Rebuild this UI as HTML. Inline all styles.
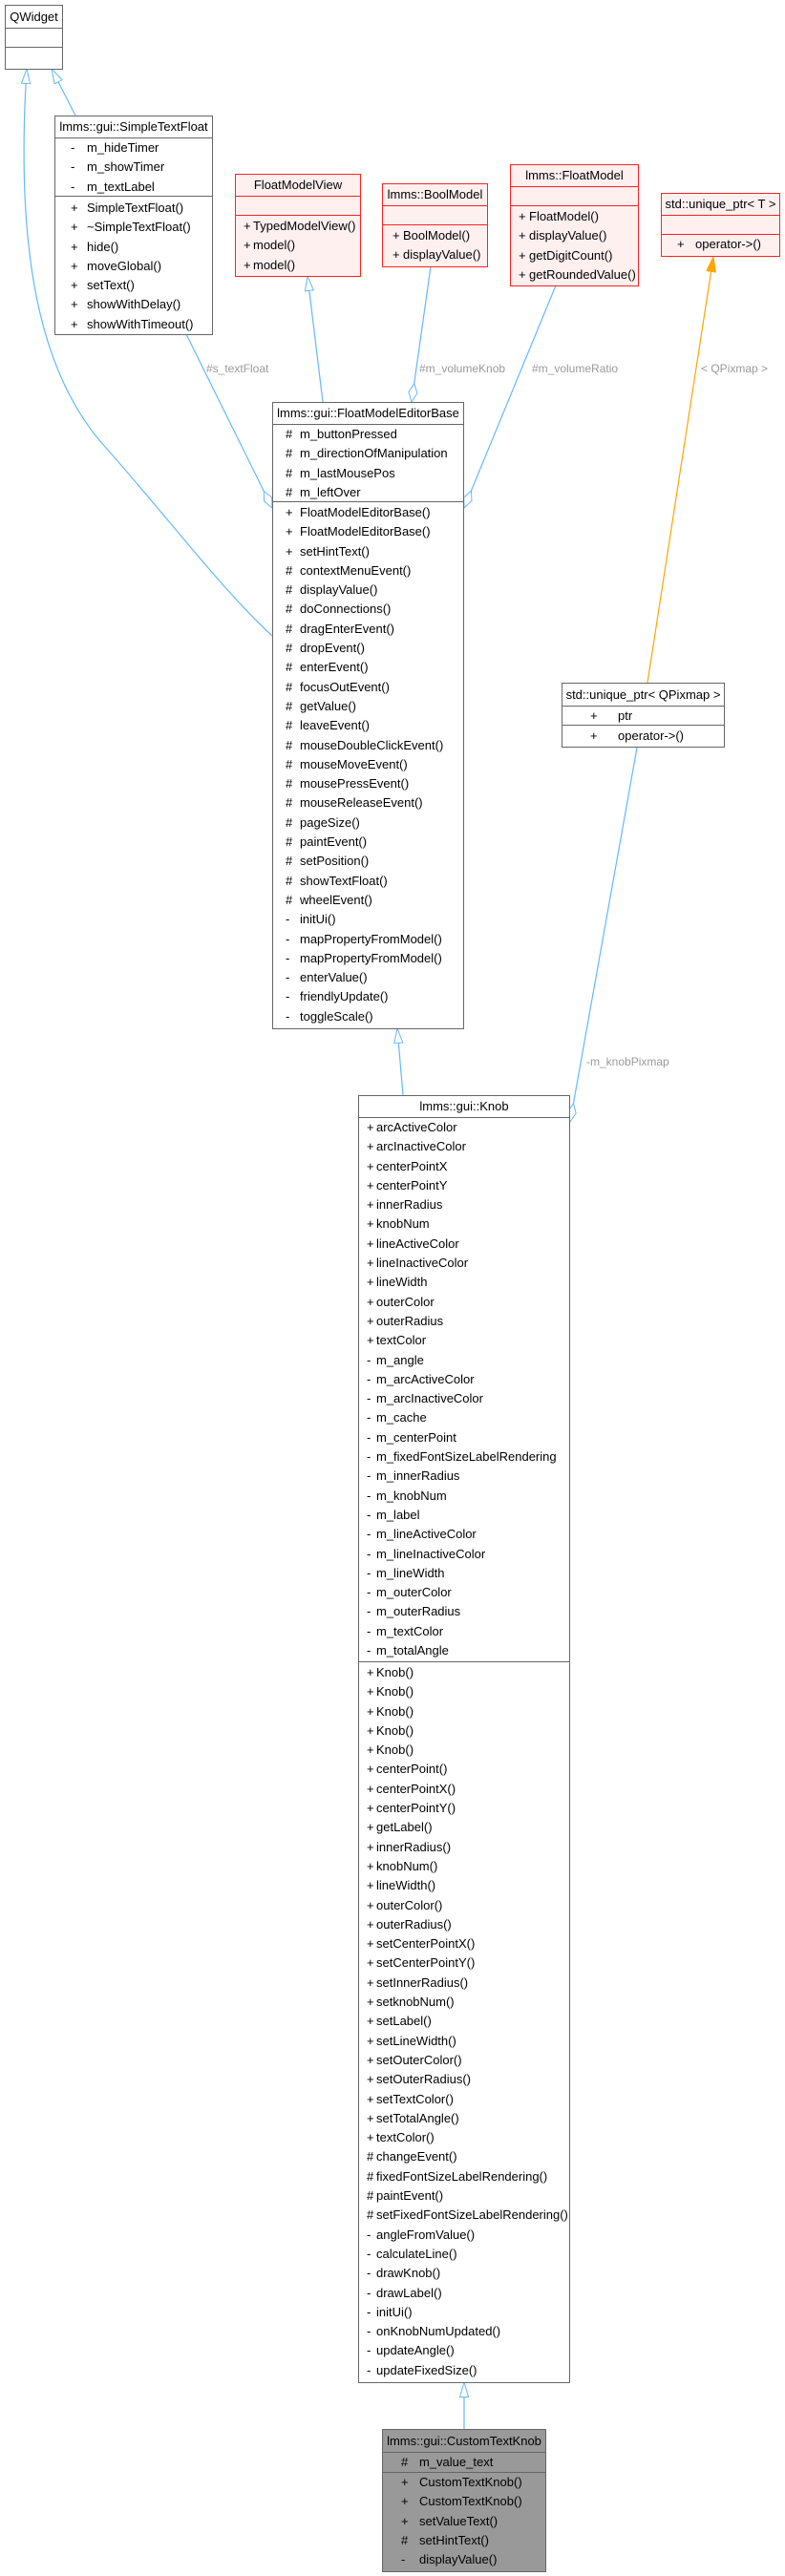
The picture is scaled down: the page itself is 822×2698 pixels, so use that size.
<!DOCTYPE html>
<html><head><meta charset="utf-8"><style>
body{margin:0;background:#fff;}
#w{position:relative;width:822px;height:2698px;overflow:hidden;font-family:"Liberation Sans",Arial,sans-serif;font-size:13px;color:#000;}
.b{position:absolute;border:1px solid #666;background:#fff;box-sizing:border-box;}
.b.red{border-color:#f22;background:#fff0f0;}
.b.grey{background:#999;}
.h{text-align:center;white-space:nowrap;border-bottom:1px solid #666;box-sizing:border-box;}
.red .h,.red .s{border-color:#f22;}
.s{border-bottom:1px solid #666;box-sizing:border-box;}
.s:last-child{border-bottom:none;}
.r{position:relative;height:20.3px;line-height:20.3px;white-space:nowrap;}
.p{position:absolute;left:var(--p);}
.n{position:absolute;left:var(--n);}
.lbl{position:absolute;color:#9a9a9a;font-size:12px;white-space:nowrap;}
svg{position:absolute;left:0;top:0;}
</style></head><body><div id="w">
<svg width="822" height="2698">
<defs>
<marker id="tri" markerUnits="userSpaceOnUse" markerWidth="18" markerHeight="12" refX="16" refY="5" orient="auto"><path d="M0.5,0.5 L16,5 L0.5,9.5 z" fill="#fff" stroke="#63b8ff" stroke-width="1"/></marker>
<marker id="dia" markerUnits="userSpaceOnUse" markerWidth="22" markerHeight="12" refX="20" refY="5" orient="auto"><path d="M0.5,5 L10,0.5 L20,5 L10,9.5 z" fill="#fff" stroke="#63b8ff" stroke-width="1"/></marker>
<marker id="ora" markerUnits="userSpaceOnUse" markerWidth="18" markerHeight="12" refX="16" refY="5" orient="auto"><path d="M0,0 L16,5 L0,10 z" fill="#ffa500" stroke="#ffa500"/></marker>
</defs>
<g fill="none" stroke="#63b8ff" stroke-width="1.2">
<path d="M79,121 L54,72" marker-end="url(#tri)"/>
<path d="M285,666 C230,615 170,535 110,468 C40,390 16,260 28,72" marker-end="url(#tri)"/>
<path d="M338,421 L322,289" marker-end="url(#tri)"/>
<path d="M486,2544 L486,2495" marker-end="url(#tri)"/>
<path d="M422,1147 L416,1077" marker-end="url(#tri)"/>
<path d="M195,350 L285,532" marker-end="url(#dia)"/>
<path d="M451,279 L431,421" marker-end="url(#dia)"/>
<path d="M582,299 L486,532" marker-end="url(#dia)"/>
<path d="M667,783 L597,1175" marker-end="url(#dia)"/>
<path d="M678,715 L747,269" stroke="#ffa500" marker-end="url(#ora)"/>
</g>
</svg>

<div class="lbl" style="left:216px;top:379px">#s_textFloat</div>
<div class="lbl" style="left:439px;top:379px">#m_volumeKnob</div>
<div class="lbl" style="left:557px;top:379px">#m_volumeRatio</div>
<div class="lbl" style="left:734px;top:379px">&lt; QPixmap &gt;</div>
<div class="lbl" style="left:614px;top:1105px">-m_knobPixmap</div>

<div class="b" style="left:5px;top:5px;width:61px;">
<div class="h" style="height:24px;line-height:23px">QWidget</div>
<div class="s" style="height:20px"></div>
<div class="s" style="height:22px"></div>
</div>

<div class="b" style="left:57px;top:121px;width:166px;--p:16px;--n:33px">
<div class="h" style="height:23px;line-height:22px">lmms::gui::SimpleTextFloat</div>
<div class="s" style="height:61px">
<div class="r"><span class="p">-</span><span class="n">m_hideTimer</span></div>
<div class="r"><span class="p">-</span><span class="n">m_showTimer</span></div>
<div class="r"><span class="p">-</span><span class="n">m_textLabel</span></div>
</div>
<div class="s" style="height:144px;padding-top:2px">
<div class="r"><span class="p">+</span><span class="n">SimpleTextFloat()</span></div>
<div class="r"><span class="p">+</span><span class="n">~SimpleTextFloat()</span></div>
<div class="r"><span class="p">+</span><span class="n">hide()</span></div>
<div class="r"><span class="p">+</span><span class="n">moveGlobal()</span></div>
<div class="r"><span class="p">+</span><span class="n">setText()</span></div>
<div class="r"><span class="p">+</span><span class="n">showWithDelay()</span></div>
<div class="r"><span class="p">+</span><span class="n">showWithTimeout()</span></div>
</div>
</div>

<div class="b red" style="left:246px;top:182px;width:132px;--p:8px;--n:18px">
<div class="h" style="height:23px;line-height:22px">FloatModelView</div>
<div class="s" style="height:20px"></div>
<div class="s" style="height:63px;padding-top:1px">
<div class="r"><span class="p">+</span><span class="n">TypedModelView()</span></div>
<div class="r"><span class="p">+</span><span class="n">model()</span></div>
<div class="r"><span class="p">+</span><span class="n">model()</span></div>
</div>
</div>

<div class="b red" style="left:400px;top:192px;width:111px;--p:10px;--n:21px">
<div class="h" style="height:23px;line-height:22px">lmms::BoolModel</div>
<div class="s" style="height:20px"></div>
<div class="s" style="height:43px;padding-top:1px">
<div class="r"><span class="p">+</span><span class="n">BoolModel()</span></div>
<div class="r"><span class="p">+</span><span class="n">displayValue()</span></div>
</div>
</div>

<div class="b red" style="left:534px;top:172px;width:135px;--p:8px;--n:19px">
<div class="h" style="height:23px;line-height:22px">lmms::FloatModel</div>
<div class="s" style="height:20px"></div>
<div class="s" style="height:83px;padding-top:1px">
<div class="r"><span class="p">+</span><span class="n">FloatModel()</span></div>
<div class="r"><span class="p">+</span><span class="n">displayValue()</span></div>
<div class="r"><span class="p">+</span><span class="n">getDigitCount()</span></div>
<div class="r"><span class="p">+</span><span class="n">getRoundedValue()</span></div>
</div>
</div>

<div class="b red" style="left:692px;top:202px;width:125px;--p:16px;--n:35px">
<div class="h" style="height:23px;line-height:22px">std::unique_ptr&lt; T &gt;</div>
<div class="s" style="height:20px"></div>
<div class="s" style="height:22px">
<div class="r"><span class="p">+</span><span class="n">operator-&gt;()</span></div>
</div>
</div>

<div class="b" style="left:285px;top:421px;width:201px;--p:13px;--n:28px">
<div class="h" style="height:23px;line-height:22px">lmms::gui::FloatModelEditorBase</div>
<div class="s" style="height:81px">
<div class="r"><span class="p">#</span><span class="n">m_buttonPressed</span></div>
<div class="r"><span class="p">#</span><span class="n">m_directionOfManipulation</span></div>
<div class="r"><span class="p">#</span><span class="n">m_lastMousePos</span></div>
<div class="r"><span class="p">#</span><span class="n">m_leftOver</span></div>
</div>
<div class="s" style="height:551px;padding-top:1px">
<div class="r"><span class="p">+</span><span class="n">FloatModelEditorBase()</span></div>
<div class="r"><span class="p">+</span><span class="n">FloatModelEditorBase()</span></div>
<div class="r"><span class="p">+</span><span class="n">setHintText()</span></div>
<div class="r"><span class="p">#</span><span class="n">contextMenuEvent()</span></div>
<div class="r"><span class="p">#</span><span class="n">displayValue()</span></div>
<div class="r"><span class="p">#</span><span class="n">doConnections()</span></div>
<div class="r"><span class="p">#</span><span class="n">dragEnterEvent()</span></div>
<div class="r"><span class="p">#</span><span class="n">dropEvent()</span></div>
<div class="r"><span class="p">#</span><span class="n">enterEvent()</span></div>
<div class="r"><span class="p">#</span><span class="n">focusOutEvent()</span></div>
<div class="r"><span class="p">#</span><span class="n">getValue()</span></div>
<div class="r"><span class="p">#</span><span class="n">leaveEvent()</span></div>
<div class="r"><span class="p">#</span><span class="n">mouseDoubleClickEvent()</span></div>
<div class="r"><span class="p">#</span><span class="n">mouseMoveEvent()</span></div>
<div class="r"><span class="p">#</span><span class="n">mousePressEvent()</span></div>
<div class="r"><span class="p">#</span><span class="n">mouseReleaseEvent()</span></div>
<div class="r"><span class="p">#</span><span class="n">pageSize()</span></div>
<div class="r"><span class="p">#</span><span class="n">paintEvent()</span></div>
<div class="r"><span class="p">#</span><span class="n">setPosition()</span></div>
<div class="r"><span class="p">#</span><span class="n">showTextFloat()</span></div>
<div class="r"><span class="p">#</span><span class="n">wheelEvent()</span></div>
<div class="r"><span class="p">-</span><span class="n">initUi()</span></div>
<div class="r"><span class="p">-</span><span class="n">mapPropertyFromModel()</span></div>
<div class="r"><span class="p">-</span><span class="n">mapPropertyFromModel()</span></div>
<div class="r"><span class="p">-</span><span class="n">enterValue()</span></div>
<div class="r"><span class="p">-</span><span class="n">friendlyUpdate()</span></div>
<div class="r"><span class="p">-</span><span class="n">toggleScale()</span></div>
</div>
</div>

<div class="b" style="left:588px;top:715px;width:171px;--p:29px;--n:58px">
<div class="h" style="height:24px;line-height:23px">std::unique_ptr&lt; QPixmap &gt;</div>
<div class="s" style="height:20px">
<div class="r" style="height:19px;line-height:19px"><span class="p">+</span><span class="n">ptr</span></div>
</div>
<div class="s" style="height:22px">
<div class="r" style="height:21px;line-height:21px"><span class="p">+</span><span class="n">operator-&gt;()</span></div>
</div>
</div>

<div class="b" style="left:375px;top:1147px;width:222px;--p:8px;--n:18px">
<div class="h" style="height:23px;line-height:22px">lmms::gui::Knob</div>
<div class="s" style="height:570px">
<div class="r"><span class="p">+</span><span class="n">arcActiveColor</span></div>
<div class="r"><span class="p">+</span><span class="n">arcInactiveColor</span></div>
<div class="r"><span class="p">+</span><span class="n">centerPointX</span></div>
<div class="r"><span class="p">+</span><span class="n">centerPointY</span></div>
<div class="r"><span class="p">+</span><span class="n">innerRadius</span></div>
<div class="r"><span class="p">+</span><span class="n">knobNum</span></div>
<div class="r"><span class="p">+</span><span class="n">lineActiveColor</span></div>
<div class="r"><span class="p">+</span><span class="n">lineInactiveColor</span></div>
<div class="r"><span class="p">+</span><span class="n">lineWidth</span></div>
<div class="r"><span class="p">+</span><span class="n">outerColor</span></div>
<div class="r"><span class="p">+</span><span class="n">outerRadius</span></div>
<div class="r"><span class="p">+</span><span class="n">textColor</span></div>
<div class="r"><span class="p">-</span><span class="n">m_angle</span></div>
<div class="r"><span class="p">-</span><span class="n">m_arcActiveColor</span></div>
<div class="r"><span class="p">-</span><span class="n">m_arcInactiveColor</span></div>
<div class="r"><span class="p">-</span><span class="n">m_cache</span></div>
<div class="r"><span class="p">-</span><span class="n">m_centerPoint</span></div>
<div class="r"><span class="p">-</span><span class="n">m_fixedFontSizeLabelRendering</span></div>
<div class="r"><span class="p">-</span><span class="n">m_innerRadius</span></div>
<div class="r"><span class="p">-</span><span class="n">m_knobNum</span></div>
<div class="r"><span class="p">-</span><span class="n">m_label</span></div>
<div class="r"><span class="p">-</span><span class="n">m_lineActiveColor</span></div>
<div class="r"><span class="p">-</span><span class="n">m_lineInactiveColor</span></div>
<div class="r"><span class="p">-</span><span class="n">m_lineWidth</span></div>
<div class="r"><span class="p">-</span><span class="n">m_outerColor</span></div>
<div class="r"><span class="p">-</span><span class="n">m_outerRadius</span></div>
<div class="r"><span class="p">-</span><span class="n">m_textColor</span></div>
<div class="r"><span class="p">-</span><span class="n">m_totalAngle</span></div>
</div>
<div class="s" style="height:754px;padding-top:1px">
<div class="r"><span class="p">+</span><span class="n">Knob()</span></div>
<div class="r"><span class="p">+</span><span class="n">Knob()</span></div>
<div class="r"><span class="p">+</span><span class="n">Knob()</span></div>
<div class="r"><span class="p">+</span><span class="n">Knob()</span></div>
<div class="r"><span class="p">+</span><span class="n">Knob()</span></div>
<div class="r"><span class="p">+</span><span class="n">centerPoint()</span></div>
<div class="r"><span class="p">+</span><span class="n">centerPointX()</span></div>
<div class="r"><span class="p">+</span><span class="n">centerPointY()</span></div>
<div class="r"><span class="p">+</span><span class="n">getLabel()</span></div>
<div class="r"><span class="p">+</span><span class="n">innerRadius()</span></div>
<div class="r"><span class="p">+</span><span class="n">knobNum()</span></div>
<div class="r"><span class="p">+</span><span class="n">lineWidth()</span></div>
<div class="r"><span class="p">+</span><span class="n">outerColor()</span></div>
<div class="r"><span class="p">+</span><span class="n">outerRadius()</span></div>
<div class="r"><span class="p">+</span><span class="n">setCenterPointX()</span></div>
<div class="r"><span class="p">+</span><span class="n">setCenterPointY()</span></div>
<div class="r"><span class="p">+</span><span class="n">setInnerRadius()</span></div>
<div class="r"><span class="p">+</span><span class="n">setknobNum()</span></div>
<div class="r"><span class="p">+</span><span class="n">setLabel()</span></div>
<div class="r"><span class="p">+</span><span class="n">setLineWidth()</span></div>
<div class="r"><span class="p">+</span><span class="n">setOuterColor()</span></div>
<div class="r"><span class="p">+</span><span class="n">setOuterRadius()</span></div>
<div class="r"><span class="p">+</span><span class="n">setTextColor()</span></div>
<div class="r"><span class="p">+</span><span class="n">setTotalAngle()</span></div>
<div class="r"><span class="p">+</span><span class="n">textColor()</span></div>
<div class="r"><span class="p">#</span><span class="n">changeEvent()</span></div>
<div class="r"><span class="p">#</span><span class="n">fixedFontSizeLabelRendering()</span></div>
<div class="r"><span class="p">#</span><span class="n">paintEvent()</span></div>
<div class="r"><span class="p">#</span><span class="n">setFixedFontSizeLabelRendering()</span></div>
<div class="r"><span class="p">-</span><span class="n">angleFromValue()</span></div>
<div class="r"><span class="p">-</span><span class="n">calculateLine()</span></div>
<div class="r"><span class="p">-</span><span class="n">drawKnob()</span></div>
<div class="r"><span class="p">-</span><span class="n">drawLabel()</span></div>
<div class="r"><span class="p">-</span><span class="n">initUi()</span></div>
<div class="r"><span class="p">-</span><span class="n">onKnobNumUpdated()</span></div>
<div class="r"><span class="p">-</span><span class="n">updateAngle()</span></div>
<div class="r"><span class="p">-</span><span class="n">updateFixedSize()</span></div>
</div>
</div>

<div class="b grey" style="left:400px;top:2544px;width:172px;height:150px;--p:19px;--n:38px">
<div class="h" style="height:24px;line-height:23px">lmms::gui::CustomTextKnob</div>
<div class="s" style="height:21px">
<div class="r" style="height:20px;line-height:20px"><span class="p">#</span><span class="n">m_value_text</span></div>
</div>
<div class="s" style="height:103px">
<div class="r"><span class="p">+</span><span class="n">CustomTextKnob()</span></div>
<div class="r"><span class="p">+</span><span class="n">CustomTextKnob()</span></div>
<div class="r"><span class="p">+</span><span class="n">setValueText()</span></div>
<div class="r"><span class="p">#</span><span class="n">setHintText()</span></div>
<div class="r"><span class="p">-</span><span class="n">displayValue()</span></div>
</div>
</div>

</div></body></html>
